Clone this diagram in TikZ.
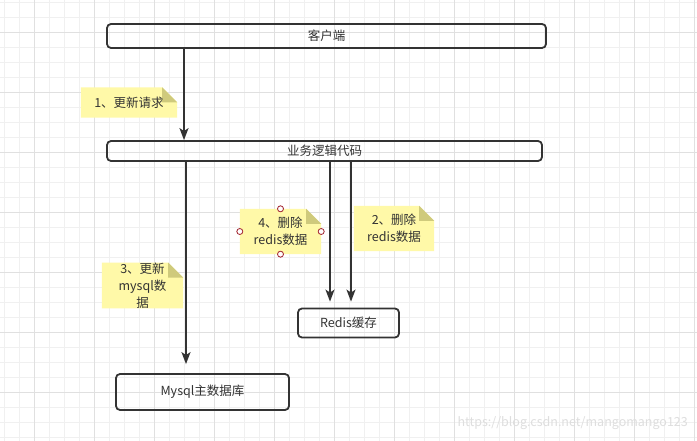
\documentclass[tikz,border=0pt]{standalone}
\usepackage{fontspec}
\setmainfont{Noto Sans CJK SC}
\usetikzlibrary{arrows.meta,calc}
\pgfdeclarelayer{gridlayer}
\pgfdeclarelayer{bg}
\pgfsetlayers{gridlayer,bg,main}
\definecolor{ink}{HTML}{333333}
\definecolor{notefill}{HTML}{FFF9A8}
\definecolor{notefold}{HTML}{CFCA7C}
\definecolor{gridminor}{HTML}{F0F0F0}
\definecolor{gridmajor}{HTML}{E0E0E0}
\definecolor{handle}{HTML}{A0202A}
\tikzset{
  box/.style={draw=ink, line width=1.8pt, rounded corners=4pt, text=ink, font=\fontsize{12.5}{15}\selectfont, inner sep=0pt},
  notebox/.style={text=ink, font=\fontsize{12.5}{17}\selectfont, align=center, inner sep=0pt},
  conn/.style={draw=ink, line width=1.8pt, -{Stealth[length=12pt,width=9pt,inset=3pt]}},
  handlept/.style={circle, draw=handle, fill=white, line width=0.8pt, minimum size=6pt, inner sep=0pt},
}
\newcommand{\notefill}[1]{%
  \begin{pgfonlayer}{bg}
    \fill[notefill] (#1.north west) -- ([xshift=-15pt]#1.north east) -- ([yshift=-15pt]#1.north east) -- (#1.south east) -- (#1.south west) -- cycle;
    \fill[notefold] ([xshift=-15pt]#1.north east) -- ([yshift=-15pt]#1.north east) -- ([xshift=-15pt,yshift=-15pt]#1.north east) -- cycle;
  \end{pgfonlayer}}
\begin{document}
\begin{tikzpicture}[x=1pt,y=-1pt]
\useasboundingbox (0,0) rectangle (697,441);
\begin{pgfonlayer}{gridlayer}
  \fill[white] (0,0) rectangle (697,441);
  \foreach \i in {0,...,46} {\draw[gridminor, line width=0.8pt] ({4+15*\i},0) -- ({4+15*\i},441);}
  \foreach \j in {0,...,29} {\draw[gridminor, line width=0.8pt] (0,{2+15*\j}) -- (697,{2+15*\j});}
  \foreach \i in {0,...,11} {\draw[gridmajor, line width=0.8pt] ({34+60*\i},0) -- ({34+60*\i},441);}
  \foreach \j in {0,...,7} {\draw[gridmajor, line width=0.8pt] (0,{32+60*\j}) -- (697,{32+60*\j});}
\end{pgfonlayer}

% boxes
\node[box, minimum width=439pt, minimum height=24pt] (client) at (326.5,36) {客户端};
\node[box, minimum width=435pt, minimum height=20pt] (biz) at (324.5,151) {业务逻辑代码};
\node[box, minimum width=101pt, minimum height=29pt] (redis) at (348.5,323) {Redis缓存};
\node[box, minimum width=173pt, minimum height=36pt] (mysql) at (202.5,392) {Mysql主数据库};

% x positions of connectors
\coordinate (xa) at (184,0);
\coordinate (xb) at (186,0);
\coordinate (xc) at (330,0);
\coordinate (xd) at (351,0);

% connectors
\draw[conn] (client.south -| xa) -- (biz.north -| xa);
\draw[conn, shorten >=9pt] (biz.south -| xb) -- (mysql.north -| xb);
\draw[conn, shorten >=6pt] (biz.south -| xc) -- (redis.north -| xc);
\draw[conn, shorten >=6pt] (biz.south -| xd) -- (redis.north -| xd);

% notes
\node[notebox, minimum width=96pt, minimum height=30pt] (n1) at (129,102.5) {1、更新请求};
\notefill{n1}
\node[notebox, minimum width=81pt, minimum height=45pt] (n4) at (280.5,231.5) {4、删除\\redis数据};
\notefill{n4}
\node[notebox, minimum width=80pt, minimum height=45pt] (n2) at (394,228.5) {2、删除\\redis数据};
\notefill{n2}
\node[notebox, minimum width=81pt, minimum height=45pt] (n3) at (142.5,285.5) {3、更新\\mysql数\\据};
\notefill{n3}

% selection handles on note 4
\node[handlept] (h1) at (n4.north) {};
\node[handlept] (h2) at (n4.south) {};
\node[handlept] (h3) at (n4.west) {};
\node[handlept] (h4) at (n4.east) {};

% watermark
\node[text=black!13, font=\fontsize{12.5}{14}\selectfont, anchor=east, inner sep=0pt] (wm) at (688,423) {https://blog.csdn.net/mangomango123};
\end{tikzpicture}
\end{document}
